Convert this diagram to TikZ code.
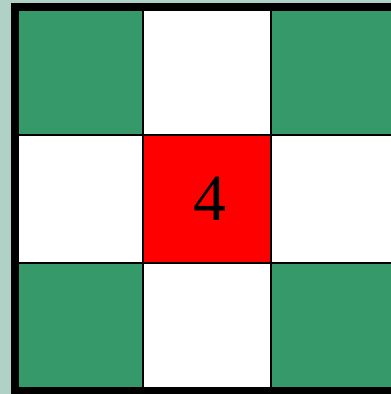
\documentclass[tikz,border=0pt]{standalone}
\usepackage{fontspec}
\setmainfont{Liberation Serif}
\usepackage{tikz}

\definecolor{backdrop}{RGB}{176,210,198}
\definecolor{tilegreen}{RGB}{54,153,106}

\begin{document}
\begin{tikzpicture}[x=1pt, y=-1pt,
        cell/.style={draw, line width=2pt, minimum size=128pt,
                     inner sep=0pt, outer sep=0pt},
        corner/.style={cell, fill=tilegreen},
        edge/.style={cell, fill=white},
        centre/.style={cell, fill=red, font=\fontsize{66}{66}\selectfont}
      ]
      \useasboundingbox (0,0) rectangle (391,394);
      \clip (0,0) rectangle (391,394);
      \fill[backdrop] (0,0) rectangle (391,394);

      \node[corner] (c00) at (79,71) {};
      \node[edge]   (c10) at (207,71) {};
      \node[corner] (c20) at (335,71) {};
      \node[edge]   (c01) at (79,199) {};
      \node[centre] (c11) at (207,199) {\hspace{6pt}4};
      \node[edge]   (c21) at (335,199) {};
      \node[corner] (c02) at (79,327) {};
      \node[edge]   (c12) at (207,327) {};
      \node[corner] (c22) at (335,327) {};

      % thick frame round the board
      \draw[line width=8pt] (c00.north west) rectangle (c22.south east);
    \end{tikzpicture}
\end{document}
